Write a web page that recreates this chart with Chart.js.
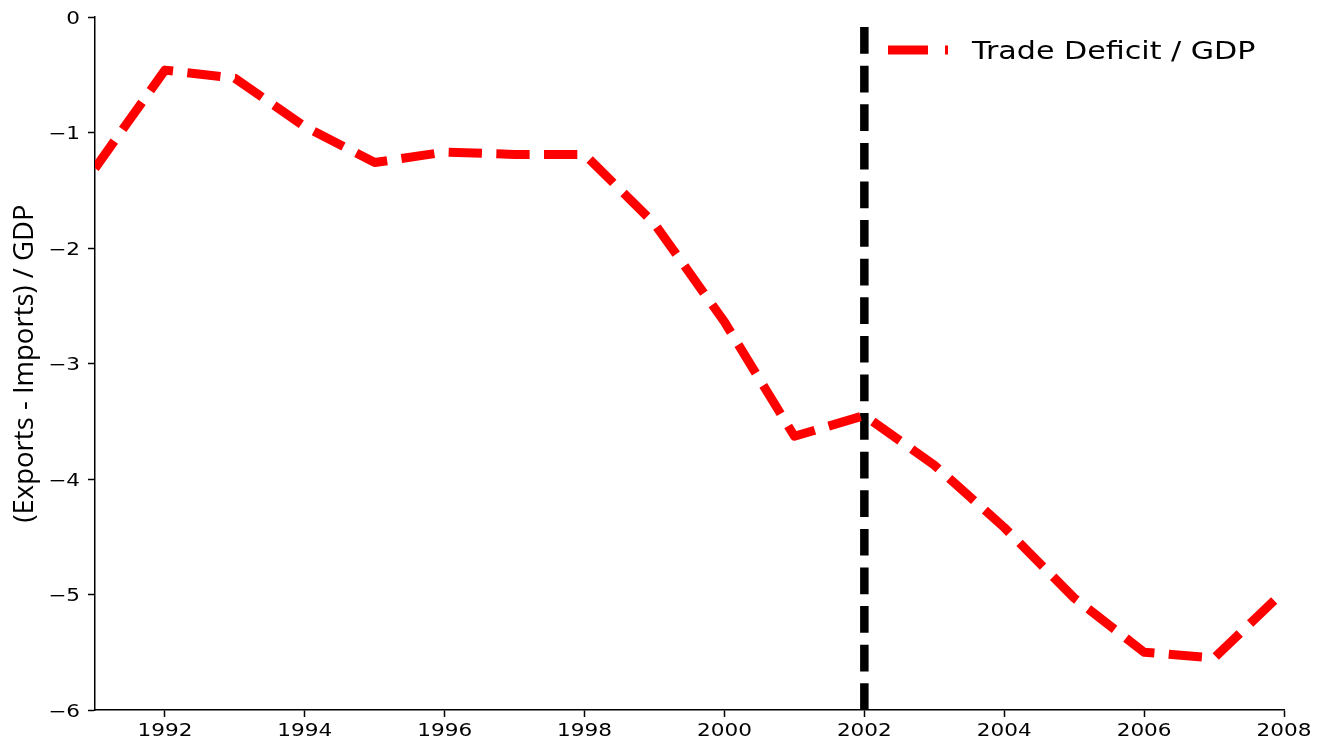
<!DOCTYPE html>
<html>
<head>
<meta charset="utf-8">
<script src="https://cdn.jsdelivr.net/npm/chart.js@4"></script>
<style>
  html, body { margin: 0; padding: 0; background: #fff; }
  #wrap { width: 1325px; height: 744px; position: relative; }
</style>
</head>
<body>
<div id="wrap"><canvas id="c" width="1325" height="744"></canvas></div>
<script>
// ---- data ----
const years = [1991, 1992, 1993, 1994, 1995, 1996, 1997, 1998, 1999, 2000, 2001, 2002, 2003, 2004, 2005, 2006, 2007, 2008];
const tradeDeficitGDP = [-1.31, -0.46, -0.53, -0.95, -1.26, -1.17, -1.19, -1.19, -1.79, -2.64, -3.63, -3.45, -3.88, -4.42, -5.03, -5.50, -5.55, -4.97];
const markerYear = 2002;
const xTicks = [1992, 1994, 1996, 1998, 2000, 2002, 2004, 2006, 2008];
const yTicks = [-6, -5, -4, -3, -2, -1, 0];
const seriesLabel = 'Trade Deficit / GDP';
const yAxisTitle = '(Exports - Imports) / GDP';
const xRange = [1991, 2008];
const yRange = [-6, 0];

const STRETCH = 1.27;
const FONT = '"DejaVu Sans", "Liberation Sans", sans-serif';

const textPlugin = {
  id: 'textPlugin',
  afterDraw(chart) {
    const ctx = chart.ctx;
    const xs = chart.scales.x, ys = chart.scales.y;
    ctx.save();
    ctx.fillStyle = '#000';
    // x tick labels
    ctx.font = '17px ' + FONT;
    ctx.textAlign = 'center';
    ctx.textBaseline = 'alphabetic';
    xTicks.forEach(v => {
      const px = xs.getPixelForValue(v);
      ctx.save();
      ctx.translate(px, 736);
      ctx.scale(STRETCH, 1);
      ctx.fillText(String(v), 0, 0);
      ctx.restore();
    });
    // y tick labels
    ctx.textAlign = 'right';
    yTicks.forEach(v => {
      const py = ys.getPixelForValue(v);
      ctx.save();
      ctx.translate(80, py + 6.5);
      ctx.scale(STRETCH, 1);
      ctx.fillText(v < 0 ? '\u2212' + Math.abs(v) : String(v), 0, 0);
      ctx.restore();
    });
    // y axis title
    ctx.save();
    ctx.font = '27.5px "Open Sans", "Noto Sans", sans-serif';
    ctx.textAlign = 'center';
    ctx.textBaseline = 'alphabetic';
    ctx.translate(33, 363.5);
    ctx.rotate(-Math.PI / 2);
    ctx.fillText(yAxisTitle, 0, 0);
    ctx.restore();
    // legend
    ctx.save();
    ctx.strokeStyle = '#ff0000';
    ctx.lineWidth = 9;
    ctx.lineCap = 'butt';
    ctx.setLineDash([40, 17]);
    ctx.beginPath();
    ctx.moveTo(888, 50);
    ctx.lineTo(948, 50);
    ctx.stroke();
    ctx.restore();
    ctx.save();
    ctx.font = '24px ' + FONT;
    ctx.textAlign = 'left';
    ctx.textBaseline = 'alphabetic';
    ctx.translate(972, 59);
    ctx.scale(1.255, 1);
    ctx.fillText(seriesLabel, 0, 0);
    ctx.restore();
    ctx.restore();
  }
};

const axisCommon = {
  type: 'linear',
  ticks: { display: false },
  grid: { drawOnChartArea: false, drawTicks: true, tickLength: 7, tickWidth: 1.5, tickColor: '#000', color: '#000' },
  border: { display: true, color: '#000', width: 1.5 }
};

new Chart(document.getElementById('c'), {
  type: 'line',
  data: {
    datasets: [
      {
        label: seriesLabel,
        data: years.map((y, i) => ({ x: y, y: tradeDeficitGDP[i] })),
        borderColor: '#ff0000',
        borderWidth: 9,
        borderDash: [33.3, 14.4],
        borderCapStyle: 'butt',
        borderJoinStyle: 'round',
        pointRadius: 0,
        tension: 0,
        fill: false,
        clip: 0
      },
      {
        label: 'marker',
        data: [{ x: markerYear, y: yRange[0] }, { x: markerYear, y: yRange[1] }],
        borderColor: '#000',
        borderWidth: 8.5,
        borderDash: [26.7, 11.9],
        borderCapStyle: 'butt',
        pointRadius: 0,
        fill: false,
        clip: 0
      }
    ]
  },
  options: {
    responsive: false,
    animation: false,
    devicePixelRatio: 1,
    layout: { padding: { top: 17, right: 41, bottom: 0, left: 0 } },
    plugins: { legend: { display: false }, tooltip: { enabled: false } },
    scales: {
      x: Object.assign({}, axisCommon, {
        min: xRange[0], max: xRange[1],
        afterBuildTicks: s => { s.ticks = xTicks.map(v => ({ value: v })); },
        afterFit: s => { s.height = 34; }
      }),
      y: Object.assign({}, axisCommon, {
        min: yRange[0], max: yRange[1],
        afterBuildTicks: s => { s.ticks = yTicks.map(v => ({ value: v })); },
        afterFit: s => { s.width = 95; }
      })
    }
  },
  plugins: [textPlugin]
});
</script>
</body>
</html>
